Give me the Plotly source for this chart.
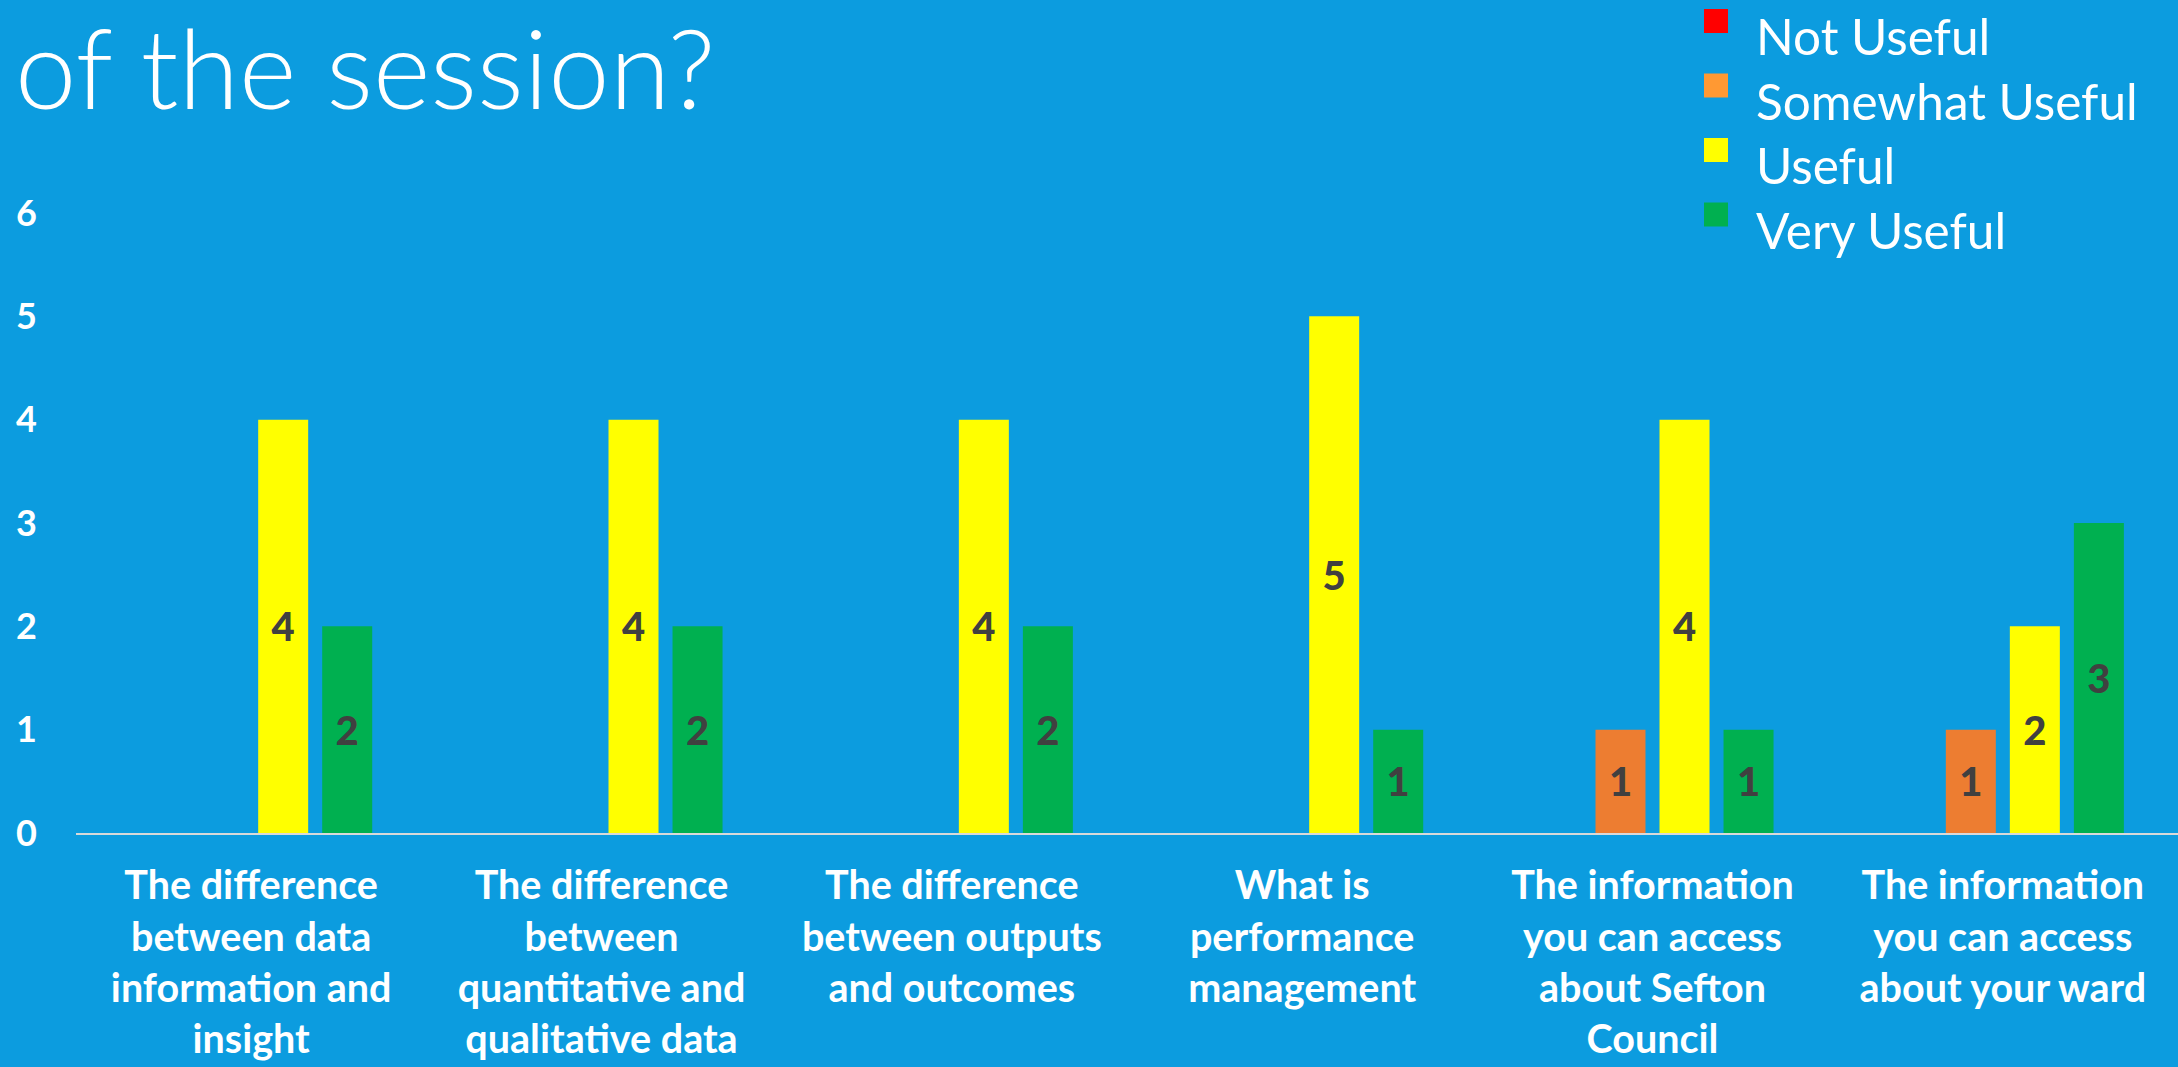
import plotly.graph_objects as go

# Survey categories (axis labels carry manual line breaks)
categories = [
    "The difference between data information and insight",
    "The difference between quantitative and qualitative data",
    "The difference between outputs and outcomes",
    "What is performance management",
    "The information you can access about Sefton Council",
    "The information you can access about your ward",
]
tick_labels = [
    "The difference<br>between data<br>information and<br>insight",
    "The difference<br>between<br>quantitative and<br>qualitative data",
    "The difference<br>between outputs<br>and outcomes",
    "What is<br>performance<br>management",
    "The information<br>you can access<br>about Sefton<br>Council",
    "The information<br>you can access<br>about your ward",
]

series_names = ["Not Useful", "Somewhat Useful", "Useful", "Very Useful"]
not_useful = [0, 0, 0, 0, 0, 0]
somewhat_useful = [0, 0, 0, 0, 1, 1]
useful = [4, 4, 4, 5, 4, 2]
very_useful = [2, 2, 2, 1, 1, 3]
series_values = [not_useful, somewhat_useful, useful, very_useful]

bar_colors = ["#FF0000", "#ED7D31", "#FFFF00", "#00B050"]
key_colors = ["#FF0000", "#FF9933", "#FFFF00", "#00B050"]

y_ticks = [0, 1, 2, 3, 4, 5, 6]

BG = "#0C9CDF"
FONT = "Lato"
W, H = 2178, 1067
M_L, M_R, M_T, M_B = 76, 0, 213, 234
PLOT_W = W - M_L - M_R
PLOT_H = H - M_T - M_B


def px_x(px):
    return (px - M_L) / PLOT_W


def px_y(py):
    return (H - M_B - py) / PLOT_H


fig = go.Figure()
for name, vals, color in zip(series_names, series_values, bar_colors):
    fig.add_trace(go.Bar(
        name=name,
        x=categories,
        y=vals,
        marker=dict(color=color, line=dict(width=0)),
        text=[str(v) if v else "" for v in vals],
        textposition="inside",
        insidetextanchor="middle",
        textangle=0,
        textfont=dict(family=FONT, size=40, color="#404040", weight=900),
        showlegend=False,
        hoverinfo="skip",
    ))

annotations = [
    dict(
        text="of the session?",
        xref="paper", yref="paper",
        x=px_x(13), y=px_y(66),
        xanchor="left", yanchor="middle",
        showarrow=False,
        font=dict(family=FONT, size=110, color="white", weight=300),
    )
]
shapes = []

# Key in the top-right corner
row_top = 21
row_step = 64.5
for i, (name, color) in enumerate(zip(series_names, key_colors)):
    cy = row_top + i * row_step
    shapes.append(dict(
        type="rect", xref="paper", yref="paper",
        x0=px_x(1704), x1=px_x(1728),
        y0=px_y(cy - 12), y1=px_y(cy + 12),
        fillcolor=color, line=dict(width=0),
    ))
    annotations.append(dict(
        text=name,
        xref="paper", yref="paper",
        x=px_x(1754), y=px_y(cy + 15),
        xanchor="left", yanchor="middle",
        showarrow=False,
        font=dict(family=FONT, size=49.5, color="white"),
    ))

fig.update_layout(
    width=W, height=H,
    margin=dict(l=M_L, r=M_R, t=M_T, b=M_B, pad=0),
    paper_bgcolor=BG,
    plot_bgcolor=BG,
    barmode="group",
    bargap=0.269,
    bargroupgap=0.219,
    annotations=annotations,
    shapes=shapes,
    xaxis=dict(
        tickvals=categories,
        ticktext=tick_labels,
        showgrid=False,
        showline=True,
        linecolor="#D9D9D9",
        linewidth=2,
        ticks="",
        ticklabelstandoff=17,
        tickfont=dict(family=FONT, size=39.5, color="white", weight="bold"),
        fixedrange=True,
    ),
    yaxis=dict(
        range=[0, 6],
        tickvals=y_ticks,
        showgrid=False,
        zeroline=False,
        showline=False,
        ticks="",
        ticklabelstandoff=38,
        tickfont=dict(family=FONT, size=36, color="white", weight="bold"),
        fixedrange=True,
    ),
)

fig.write_html("out.html", config=dict(displayModeBar=False))
